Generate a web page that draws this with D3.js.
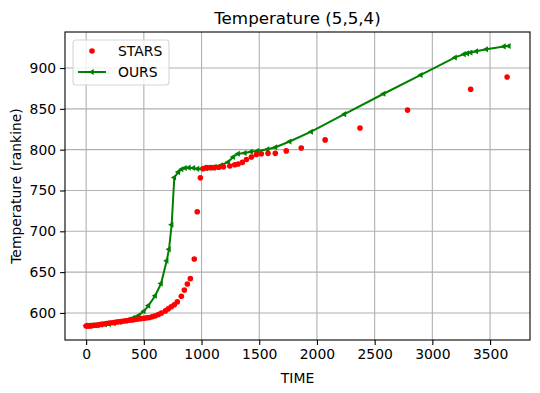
<!DOCTYPE html>
<html>
<head>
<meta charset="utf-8">
<script src="https://cdn.jsdelivr.net/npm/d3@7"></script>
<style>
  body { margin: 0; background: #fff; }
  svg { display: block; font-family: "DejaVu Sans", sans-serif; }
</style>
</head>
<body>
<svg id="chart" width="540" height="393"></svg>
<script>
// STARS (red dots)
const starsTime = [0, 10, 20, 35, 50, 70, 90, 110, 130, 150, 175, 200, 225, 250, 275, 300,
  325, 350, 375, 400, 425, 450, 475, 500, 525, 550, 575, 600, 626, 652, 687, 712, 738,
  764, 790, 825, 851, 877, 903, 937, 963, 990, 1015, 1043, 1075, 1110, 1150, 1190, 1245,
  1288, 1317, 1354, 1389, 1432, 1475, 1518, 1576, 1639, 1734, 1864, 2071, 2373, 2785,
  3332, 3648];
const starsTemp = [584, 584, 584, 584, 584.5, 585, 585, 585.5, 586, 586.5, 587, 587.5, 588,
  588.5, 589, 589.5, 590, 590.5, 591, 591.5, 592, 592.5, 593, 593.5, 594, 594.5, 595.5,
  596.5, 598, 600, 602.5, 605, 607.5, 610, 613.5, 620.5, 628, 635.5, 642, 666, 724, 765.5,
  777, 778, 778, 778, 778.5, 779, 780, 781.5, 782.5, 784.5, 788, 791, 794, 795, 795.5,
  795.5, 798.5, 802, 812, 826.5, 848.5, 874, 889];

// OURS (green line with markers)
const oursTime = [0, 20, 40, 60, 80, 100, 130, 165, 200, 240, 290, 335, 370, 410, 455, 500,
  540, 598, 649, 698, 718, 741, 764, 799, 827, 857, 891, 929, 965, 1000, 1043, 1080, 1116,
  1170, 1231, 1274, 1317, 1375, 1429, 1485, 1572, 1641, 1763, 1950, 2238, 2578, 2900,
  3197, 3274, 3303, 3332, 3381, 3467, 3620, 3663];
const oursTemp = [584.5, 584.5, 584.5, 585, 585, 585, 585.5, 586, 586.5, 587.5, 589, 590.5,
  592, 594, 597, 602, 609, 621, 636, 664, 678, 708, 766, 772.5, 776, 777.5, 778, 777.5,
  776.5, 776.5, 777, 778, 779, 781, 785, 791, 795, 796, 797.5, 798.5, 800.5, 803, 810, 822,
  843.5, 868.5, 891.5, 913, 917, 918, 919, 920.5, 923, 926.5, 927];

const xTicks = [0, 500, 1000, 1500, 2000, 2500, 3000, 3500];
const yTicks = [600, 650, 700, 750, 800, 850, 900];

const stars = starsTime.map((t, i) => ({ t, v: starsTemp[i] }));
const ours = oursTime.map((t, i) => ({ t, v: oursTemp[i] }));

const svg = d3.select("#chart");
const margin = { left: 65, right: 10, top: 32, bottom: 53 };
const W = 540, H = 393;

// matplotlib style 5% padding
function padded(vals) {
  const [a, b] = d3.extent(vals);
  const p = (b - a) * 0.05;
  return [a - p, b + p];
}

const x = d3.scaleLinear()
  .domain(padded(starsTime.concat(oursTime)))
  .range([margin.left, W - margin.right]);
const y = d3.scaleLinear()
  .domain(padded(starsTemp.concat(oursTemp)))
  .range([H - margin.bottom, margin.top]);

const grid = svg.append("g").attr("stroke", "#b0b0b0").attr("stroke-width", 1.1);
grid.selectAll("line.gx").data(xTicks).join("line")
  .attr("x1", d => x(d)).attr("x2", d => x(d))
  .attr("y1", margin.top).attr("y2", H - margin.bottom);
grid.selectAll("line.gy").data(yTicks).join("line")
  .attr("x1", margin.left).attr("x2", W - margin.right)
  .attr("y1", d => y(d)).attr("y2", d => y(d));

// axes
const xAxis = svg.append("g")
  .attr("transform", `translate(0,${H - margin.bottom})`)
  .call(d3.axisBottom(x).tickValues(xTicks).tickSize(4.9).tickPadding(4).tickFormat(d3.format("d")));
const yAxis = svg.append("g")
  .attr("transform", `translate(${margin.left},0)`)
  .call(d3.axisLeft(y).tickValues(yTicks).tickSize(4.9).tickPadding(4).tickFormat(d3.format("d")));
[xAxis, yAxis].forEach(a => {
  a.select(".domain").remove();
  a.selectAll("text").attr("font-size", 13.9).attr("fill", "#000")
    .attr("font-family", "DejaVu Sans");
  a.selectAll("line").attr("stroke", "#000").attr("stroke-width", 1.1);
});

// plot marks
const line = d3.line().x(d => x(d.t)).y(d => y(d.v));
svg.append("path").datum(ours)
  .attr("fill", "none").attr("stroke", "#008000").attr("stroke-width", 2)
  .attr("d", line);

const tri = d3.symbol().type(d3.symbolTriangle).size(16);
svg.append("g").selectAll("path").data(ours).join("path")
  .attr("d", tri)
  .attr("fill", "#008000")
  .attr("transform", d => `translate(${x(d.t)},${y(d.v)}) rotate(-90)`);

svg.append("g").selectAll("circle").data(stars).join("circle")
  .attr("cx", d => x(d.t)).attr("cy", d => y(d.v))
  .attr("r", 2.8).attr("fill", "#ff0000");

// frame
svg.append("rect")
  .attr("x", margin.left).attr("y", margin.top)
  .attr("width", W - margin.left - margin.right)
  .attr("height", H - margin.top - margin.bottom)
  .attr("fill", "none").attr("stroke", "#000").attr("stroke-width", 1.1);

// labels
svg.append("text").attr("x", (margin.left + W - margin.right) / 2).attr("y", 24)
  .attr("text-anchor", "middle").attr("font-size", 16.7).text("Temperature (5,5,4)");
svg.append("text").attr("x", (margin.left + W - margin.right) / 2).attr("y", 383)
  .attr("text-anchor", "middle").attr("font-size", 13.9).text("TIME");
svg.append("text")
  .attr("transform", `translate(21,${(margin.top + H - margin.bottom) / 2}) rotate(-90)`)
  .attr("text-anchor", "middle").attr("font-size", 13.9).text("Temperature (rankine)");

// legend
const lg = svg.append("g").attr("transform", "translate(73,40)");
lg.append("rect").attr("width", 96).attr("height", 45).attr("rx", 3)
  .attr("fill", "#fff").attr("fill-opacity", 0.8)
  .attr("stroke", "#d6d6d6").attr("stroke-width", 1.1);
lg.append("circle").attr("cx", 19).attr("cy", 11).attr("r", 2.8).attr("fill", "#ff0000");
lg.append("text").attr("x", 45).attr("y", 16).attr("font-size", 13.9).text("STARS");
lg.append("line").attr("x1", 5).attr("x2", 33).attr("y1", 32).attr("y2", 32)
  .attr("stroke", "#008000").attr("stroke-width", 2);
lg.append("path").attr("d", tri).attr("fill", "#008000")
  .attr("transform", "translate(19,32) rotate(-90)");
lg.append("text").attr("x", 45).attr("y", 37).attr("font-size", 13.9).text("OURS");
</script>
</body>
</html>
